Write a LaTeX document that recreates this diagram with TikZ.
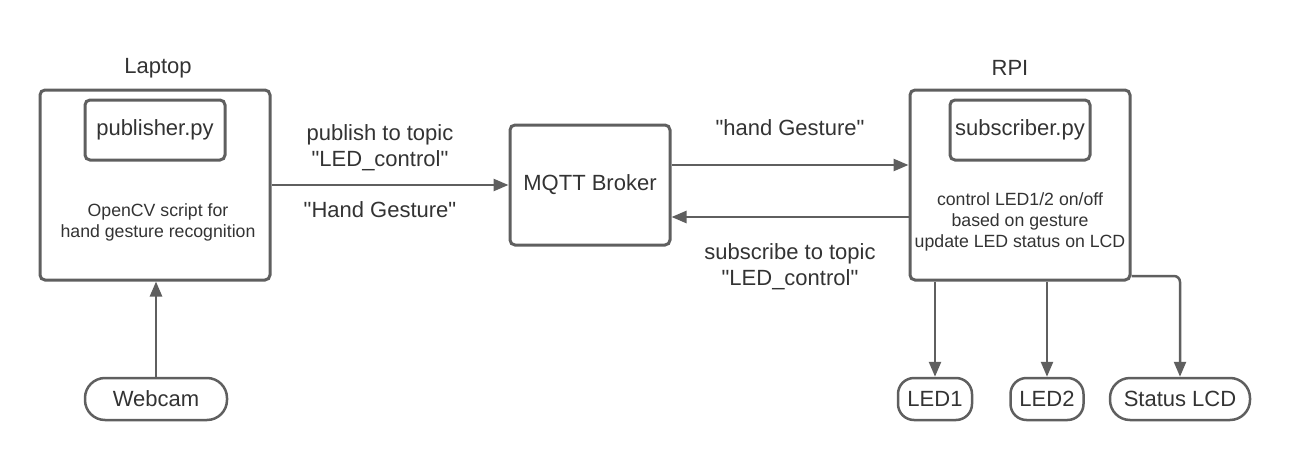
\documentclass[tikz,border=0pt]{standalone}
\usepackage{fontspec}
\setmainfont{Liberation Sans}[Ligatures=TeXOff]
\usetikzlibrary{arrows.meta}

\definecolor{linegray}{HTML}{5F5F5F}
\definecolor{textgray}{HTML}{333333}

\begin{document}
\begin{tikzpicture}[x=1pt, y=-1pt,
	box/.style={draw=linegray, line width=3pt, rounded corners=5pt,
		text=textgray, font=\fontsize{22}{26}\selectfont},
	pill/.style={draw=linegray, line width=2.5pt, rounded corners=20pt,
		minimum height=42pt, text=textgray, font=\fontsize{22}{26}\selectfont},
	txt/.style={text=textgray, font=\fontsize{22}{26}\selectfont, align=center},
	small/.style={text=textgray, font=\fontsize{17.7}{21}\selectfont, align=center},
	conn/.style={draw=linegray, line width=2.5pt, -{Triangle[length=15pt,width=12pt]}},
]

% frame %{{{1

	\useasboundingbox (0,0) rectangle (1290,460);

% boxes %{{{1

	\node[box, minimum width=230pt, minimum height=190pt] (laptop) at (155,185) {};
	\node[box, minimum width=140pt, minimum height=60pt] (pub) at (155,130) {publisher.py};

	\node[box, minimum width=160pt, minimum height=120pt] (mqtt) at (590,185) {MQTT Broker};

	\node[box, minimum width=220pt, minimum height=190pt] (rpi) at (1020,185) {};
	\node[box, minimum width=140pt, minimum height=60pt] (sub) at (1020,130) {subscriber.py};

% devices %{{{1

	\node[pill, minimum width=142pt] (webcam) at (156,399) {Webcam};

	\node[pill, rounded corners=16pt, minimum width=74pt] (led1) at (935,399) {LED1};
	\node[pill, rounded corners=16pt, minimum width=73pt] (led2) at (1047,399) {LED2};
	\node[pill, minimum width=140pt] (lcd) at (1180,399) {Status LCD};

% box texts %{{{1

	\node[txt] (laptoplbl) at (158,68) {Laptop};
	\node[txt] (rpilbl) at (1010,68) {RPI};

	\node[small] (cvtxt) at (158,222) {OpenCV script for\\hand gesture recognition};
	\node[small] (rpitxt) at (1020,222) {control LED1/2 on/off\\based on gesture\\update LED status on LCD};

% connectors %{{{1

	\draw[conn] (laptop) -- (mqtt);
	\draw[conn] ([yshift=20pt]mqtt.east) -- ([yshift=20pt]rpi.west);
	\draw[conn] ([yshift=-32pt]rpi.west) -- ([yshift=-32pt]mqtt.east);

	\draw[conn] (webcam.north) -- (webcam.north |- laptop.south);

	\draw[conn] (led1 |- rpi.south) -- (led1.north);
	\draw[conn] (led2 |- rpi.south) -- (led2.north);
	\draw[conn, rounded corners=6pt] ([yshift=-91pt]rpi.east) -| (lcd.north);

% connector labels %{{{1

	\node[txt] (publbl) at (380,148) {publish to topic\\"LED\_control"};
	\node[txt] (handlbl) at (380,210) {"Hand Gesture"};

	\node[txt] (gestlbl) at (790,128) {"hand Gesture"};
	\node[txt] (sublbl) at (790,267) {subscribe to topic\\"LED\_control"};

% closing %{{{1

\end{tikzpicture}
\end{document}
